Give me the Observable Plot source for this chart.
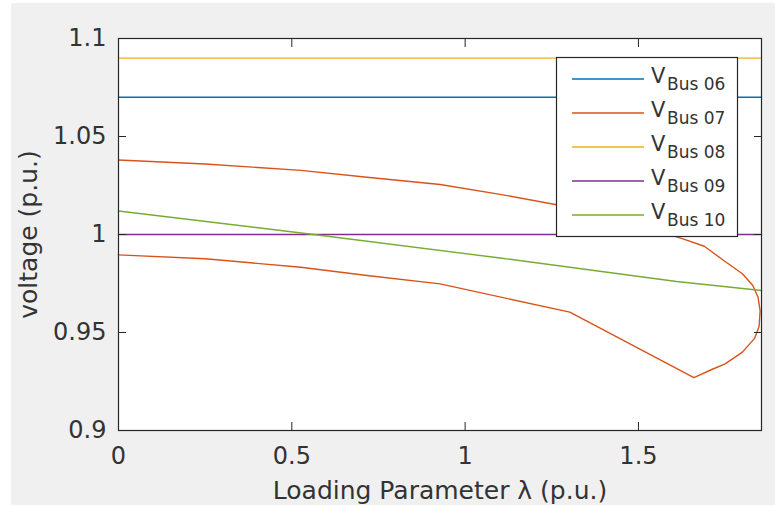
<!DOCTYPE html>
<html>
<head>
<meta charset="utf-8">
<script src="https://cdn.jsdelivr.net/npm/d3@7"></script>
<script src="https://cdn.jsdelivr.net/npm/@observablehq/plot@0.6"></script>
<style>
html, body { margin: 0; padding: 0; background: #fff; width: 775px; height: 506px; overflow: hidden; }
#bg { position: absolute; left: 11px; top: 3px; width: 764px; height: 502px; background: #f0f0f0; }
#chart { position: absolute; left: 0; top: 0; }
#legend { position: absolute; left: 0; top: 0; pointer-events: none; }
</style>
</head>
<body>
<div id="bg"></div>
<div id="chart"></div>
<svg id="legend" width="775" height="506"></svg>
<script>
// ---- data ----
const seriesNames = ["Bus 06", "Bus 07", "Bus 08", "Bus 09", "Bus 10"];
const seriesColors = ["#0072BD", "#D95319", "#EDB120", "#7E2F8E", "#77AC30"];

const lambdaFlat = [0, 1.855];
const vBus06 = [1.07, 1.07];
const vBus08 = [1.09, 1.09];
const vBus09 = [1.0, 1.0];

// Bus 07: PV nose curve, in path order (upper branch out, lower branch back)
const lambdaBus07 = [0, 0.25, 0.526, 0.717, 0.928, 1.101, 1.26, 1.45, 1.624, 1.69, 1.744, 1.80, 1.83, 1.845, 1.851, 1.848, 1.835, 1.80, 1.75, 1.71, 1.66, 1.302, 0.928, 0.717, 0.526, 0.25, 0];
const vBus07 = [1.038, 1.036, 1.0327, 1.0292, 1.0255, 1.0205, 1.0153, 1.0075, 0.998, 0.994, 0.987, 0.980, 0.974, 0.968, 0.961, 0.953, 0.947, 0.940, 0.934, 0.931, 0.927, 0.9604, 0.9748, 0.9791, 0.9833, 0.9876, 0.9896];

const lambdaBus10 = [0, 0.563, 1.101, 1.61, 1.855];
const vBus10 = [1.012, 1.0, 0.988, 0.976, 0.9714];

const xTicks = [0, 0.5, 1, 1.5];
const yTicks = [0.9, 0.95, 1, 1.05, 1.1];
const xLabel = "Loading Parameter λ (p.u.)";
const yLabel = "voltage (p.u.)";

// ---- build tables ----
const toRows = (xs, ys) => xs.map((x, i) => ({x, y: ys[i]}));
const series = [
  toRows(lambdaFlat, vBus06),
  toRows(lambdaBus07, vBus07),
  toRows(lambdaFlat, vBus08),
  toRows(lambdaFlat, vBus09),
  toRows(lambdaBus10, vBus10)
];

const axisColor = "#262626";
const plot = Plot.plot({
  width: 775,
  height: 506,
  marginLeft: 118,
  marginRight: 14,
  marginTop: 38,
  marginBottom: 76,
  style: {background: "transparent", fontFamily: "DejaVu Sans", fontSize: "24px", color: "#333", overflow: "visible"},
  x: {domain: [0, 1.855]},
  y: {domain: [0.9, 1.1]},
  marks: [
    Plot.frame({fill: "white"}),
    ...series.map((rows, i) => Plot.line(rows, {x: "x", y: "y", stroke: seriesColors[i], strokeWidth: 1.4})),
    Plot.axisX({ticks: xTicks, tickFormat: d => String(d), tickSize: -8, tickPadding: 24, label: null, stroke: axisColor}),
    Plot.axisX({anchor: "top", ticks: xTicks, tickFormat: () => "", tickSize: -8, label: null, stroke: axisColor}),
    Plot.axisY({ticks: yTicks, tickFormat: d => String(d), tickSize: -8, tickPadding: 20, label: null, stroke: axisColor}),
    Plot.axisY({anchor: "right", ticks: yTicks, tickFormat: () => "", tickSize: -8, label: null, stroke: axisColor}),
    Plot.frame({stroke: axisColor, strokeWidth: 1.2}),
    Plot.text([xLabel], {text: d => d, frameAnchor: "bottom", textAnchor: "middle", lineAnchor: "middle", dy: 60, fontSize: 25, fill: "#333"}),
    Plot.text([yLabel], {text: d => d, frameAnchor: "left", textAnchor: "middle", lineAnchor: "middle", rotate: -90, dx: -90, fontSize: 25, fill: "#333"})
  ]
});
document.getElementById("chart").appendChild(plot);

// ---- legend (MATLAB-style box inside the axes) ----
const lg = d3.select("#legend");
lg.append("rect")
  .attr("x", 556.5).attr("y", 57.5).attr("width", 181).attr("height", 179)
  .attr("fill", "white").attr("stroke", axisColor).attr("stroke-width", 1.2);
seriesNames.forEach((name, i) => {
  const y = 79 + i * 34;
  lg.append("line")
    .attr("x1", 572).attr("x2", 644).attr("y1", y).attr("y2", y)
    .attr("stroke", seriesColors[i]).attr("stroke-width", 1.4);
  const t = lg.append("text")
    .attr("font-family", "DejaVu Sans").attr("fill", "#333");
  t.append("tspan").attr("x", 651).attr("y", y + 4).attr("font-size", 21).text("V");
  t.append("tspan").attr("x", 667).attr("y", y + 11).attr("font-size", 17).text(name);
});
</script>
</body>
</html>
